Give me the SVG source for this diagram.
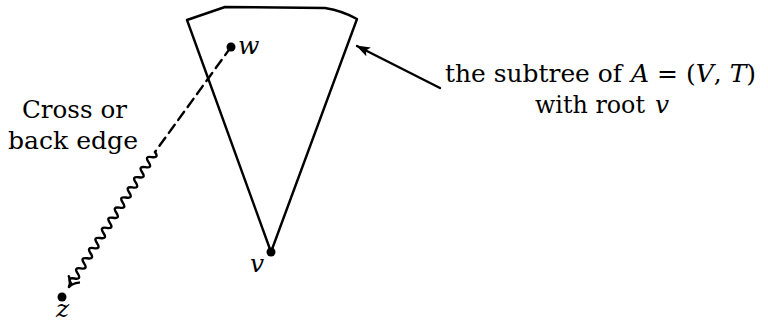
<svg xmlns="http://www.w3.org/2000/svg" width="768" height="322" viewBox="0 0 768 322">
<style>
.t{font-family:"DejaVu Serif","Liberation Serif",serif;font-size:25px;fill:#000}
.i{font-style:italic}
.s{fill:none;stroke:#000;stroke-width:2.4;stroke-linecap:round;stroke-linejoin:round}
</style>
<defs>
<marker id="ah" markerWidth="14" markerHeight="10" refX="13" refY="5" orient="auto" markerUnits="userSpaceOnUse">
<path d="M0,0 L14,5 L0,10 L3,5 Z" fill="#000"/>
</marker>
</defs>
<rect width="768" height="322" fill="#fff"/>
<g id="subtree">
<path class="s" d="M187,20 L225,7 L325,8 Q343,11 357,19 L271,252 Z"/>
</g>
<g id="w"><circle cx="231" cy="47" r="4.5"/><text class="t i" x="238" y="54" font-size="23">w</text></g>
<g id="v"><circle cx="271" cy="252" r="4.5"/><text class="t i" x="250" y="272" font-size="23">v</text></g>
<g id="z"><circle cx="62" cy="297" r="4.5"/><text class="t i" x="56" y="317" font-size="23">z</text></g>
<g id="connectors">
<path class="s" d="M231,47 L155,152" stroke-dasharray="10,6"/>
<g transform="translate(155,152) rotate(122.5)">
<path class="s" stroke-width="2.6" d="M0,0 q3,-7 6,0 t6,0 t6,0 t6,0 t6,0 t6,0 t6,0 t6,0 t6,0 t6,0 t6,0 t6,0 t6,0 t6,0 t6,0 t6,0 t6,0 t6,0 t6,0 t6,0 t6,0 t6,0 t6,0 t6,0 t6,0 t6,0 L160,0"/>
<path class="s" d="M151,-6 Q155,-1 160,0 Q155,1 151,6"/>
</g>
<path class="s" d="M440,88 L357,46" marker-end="url(#ah)"/>
</g>
<g id="labels">
<text class="t" x="22" y="118" textLength="105" lengthAdjust="spacingAndGlyphs">Cross or</text>
<text class="t" x="8" y="149" textLength="130" lengthAdjust="spacingAndGlyphs">back edge</text>
<text class="t" x="445" y="82" textLength="177" lengthAdjust="spacingAndGlyphs">the subtree of</text>
<text class="t" x="631" y="82"><tspan class="i">A</tspan> = (<tspan class="i">V</tspan>, <tspan class="i">T</tspan>)</text>
<text class="t" x="535" y="113" textLength="110" lengthAdjust="spacingAndGlyphs">with root</text>
<text class="t i" x="655" y="113">v</text>
</g>
</svg>
